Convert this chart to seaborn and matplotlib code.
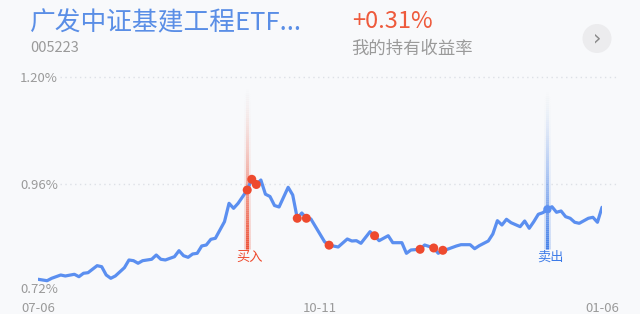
import numpy as np
import pandas as pd
import matplotlib
matplotlib.use("Agg")
import matplotlib.pyplot as plt
from matplotlib.collections import LineCollection
from matplotlib.patches import Ellipse
import matplotlib.transforms as mtransforms
import seaborn as sns

# ---------------- data ----------------
days = [0, 2, 3, 5, 6, 8, 9, 10, 11, 13, 14, 15, 16, 17, 19, 20, 21, 22, 23, 25,
        26, 27, 28, 30, 31, 32, 33, 34, 35, 36, 37, 38, 39, 41, 42, 43, 44, 46, 47, 48,
        49, 50, 51, 52, 53, 55, 56, 57, 58, 59, 60, 63, 64, 66, 68, 69, 70, 71, 73, 74,
        75, 77, 78, 80, 81, 82, 84, 85, 87, 88, 89, 90, 92, 93, 95, 96, 97, 99, 100, 101,
        102, 103, 104, 106, 107, 108, 109, 110, 111, 112, 113, 114, 115, 116, 117, 118, 119, 121, 122, 123,
        124]
values = [0.7457, 0.7425, 0.7479, 0.7553, 0.7531, 0.7569, 0.7515, 0.7592, 0.7605, 0.7763,
          0.7740, 0.7553, 0.7479, 0.7531, 0.7718, 0.7891, 0.7875, 0.7817, 0.7875, 0.7907,
          0.8003, 0.7907, 0.7891, 0.7965, 0.8100, 0.7987, 0.7951, 0.8026, 0.8041, 0.8206,
          0.8228, 0.8356, 0.8379, 0.8752, 0.9166, 0.9053, 0.9166, 0.9465, 0.9706, 0.9589,
          0.9690, 0.9371, 0.9319, 0.9116, 0.9083, 0.9526, 0.9353, 0.8829, 0.8948, 0.8829,
          0.8813, 0.8302, 0.8224, 0.8183, 0.8363, 0.8318, 0.8325, 0.8266, 0.8527, 0.8437,
          0.8325, 0.8437, 0.8280, 0.8280, 0.8041, 0.8116, 0.8131, 0.8228, 0.8161, 0.8041,
          0.8109, 0.8131, 0.8206, 0.8235, 0.8235, 0.8145, 0.8212, 0.8318, 0.8476, 0.8775,
          0.8678, 0.8806, 0.8730, 0.8640, 0.8768, 0.8604, 0.8752, 0.8919, 0.8955, 0.9031,
          0.9089, 0.8964, 0.8993, 0.8865, 0.8829, 0.8739, 0.8716, 0.8829, 0.8851, 0.8739,
          0.9076]
buy_dot_days = [46, 47, 48, 57, 59, 64, 74, 84, 87, 89]
buy_day = 46
sell_day = 112
y_ticks = [0.72, 0.96, 1.20]
y_tick_labels = ["0.72%", "0.96%", "1.20%"]
x_ticks = [0, 62, 124]
x_tick_labels = ["07-06", "10-11", "01-06"]
title = "广发中证基建工程ETF..."
code = "005223"
ret_text = "+0.31%"
ret_label = "我的持有收益率"

# ---------------- style ----------------
sns.set_style("white")
plt.rcParams["font.family"] = ["Noto Sans CJK SC", "DejaVu Sans"]
BG = "#f8f9fb"
LINE = "#5b8ff0"
RED = "#ee4a2e"
BLUE = "#3d7be8"
GRAY = "#9a9a9a"

df = pd.DataFrame({"day": days, "value": values})
dots = df[df["day"].isin(buy_dot_days)]
sell = df[df["day"] == sell_day]

W, H = 640, 314
fig = plt.figure(figsize=(W / 100, H / 100), dpi=100, facecolor=BG)
ax = fig.add_axes([38 / W, 23.3 / H, 564 / W, 213.4 / H])
ax.set_facecolor(BG)
ax.set_xlim(0, 124)
ax.set_ylim(0.72, 1.20)
for s in ax.spines.values():
    s.set_visible(False)

# dotted grid lines (extend past the data range like the reference)
ytrans = ax.get_yaxis_transform()
for yv in y_ticks[1:]:
    ax.plot([0.039, 1.028], [yv, yv], transform=ytrans, color="#dde0e6",
            lw=1.0, ls=(0, (1, 2.5)), clip_on=False, zorder=0)

# gradient vertical marker lines
xtrans = ax.get_xaxis_transform()
def grad_line(xd, y0, y1, color, n=80):
    ys = np.linspace(y0, y1, n + 1)
    segs = [[(xd, ys[i]), (xd, ys[i + 1])] for i in range(n)]
    t = np.linspace(0, 1, n)
    rgba = np.array([matplotlib.colors.to_rgba(color)] * n)
    rgba[:, 3] = np.clip(t ** 1.6, 0, 1) * 0.95
    lc = LineCollection(segs, colors=rgba, linewidths=2.2, transform=xtrans, zorder=1)
    ax.add_collection(lc)
    rgba2 = rgba.copy()
    rgba2[:, 3] = rgba2[:, 3] * 0.25
    lc2 = LineCollection(segs, colors=rgba2, linewidths=5, transform=xtrans, zorder=1)
    ax.add_collection(lc2)

grad_line(buy_day, 0.964, 0.195, RED)
grad_line(sell_day, 0.950, 0.195, BLUE)

sns.lineplot(data=df, x="day", y="value", ax=ax, color=LINE, lw=2.3, zorder=2,
             estimator=None, sort=False)
sns.scatterplot(data=dots, x="day", y="value", ax=ax, color=RED, s=42,
                edgecolor="none", zorder=3)
sns.scatterplot(data=sell, x="day", y="value", ax=ax, color=LINE, s=36,
                edgecolor="none", zorder=3)

ax.text(buy_day + 0.6, 0.158, "买入", transform=xtrans, ha="center", va="center",
        color=RED, fontsize=9.5)
ax.text(sell_day + 0.6, 0.158, "卖出", transform=xtrans, ha="center", va="center",
        color=BLUE, fontsize=9.5)

# ticks
ax.set_xticks(x_ticks)
ax.set_xticklabels(x_tick_labels, color=GRAY, fontsize=9.5)
ax.set_yticks(y_ticks)
ax.set_yticklabels(y_tick_labels, color=GRAY, fontsize=9.5)
ax.tick_params(axis="x", length=0, pad=8)
ax.tick_params(axis="y", length=0, pad=13)
for lab in ax.get_yticklabels():
    lab.set_ha("left")
ylabs = ax.get_yticklabels()
ylabs[0].set_transform(ylabs[0].get_transform() +
                       mtransforms.ScaledTranslation(0, 2.5 / 100, fig.dpi_scale_trans))
ax.set_xlabel("")
ax.set_ylabel("")

# header
fig.text(30 / W, 1 - 23 / H, title, color="#5a8ee6", fontsize=18.5, ha="left", va="center")
fig.text(30 / W, 1 - 48 / H, code, color=GRAY, fontsize=10.5, ha="left", va="center")
fig.text(352 / W, 1 - 22 / H, ret_text, color="#ee5a3c", fontsize=17, ha="left", va="center")
fig.text(351 / W, 1 - 49 / H, ret_label, color=GRAY, fontsize=12.5, ha="left", va="center")
fig.patches.append(Ellipse((597 / W, 1 - 38.5 / H), 29 / W, 29 / H,
                           transform=fig.transFigure, facecolor="#ececee", edgecolor="none"))
fig.text(597 / W, 1 - 38.5 / H, "›", color="#8a8a8a", fontsize=15, ha="center", va="center",
         family="DejaVu Sans")

fig.savefig("out.png", dpi=100, facecolor=BG)
